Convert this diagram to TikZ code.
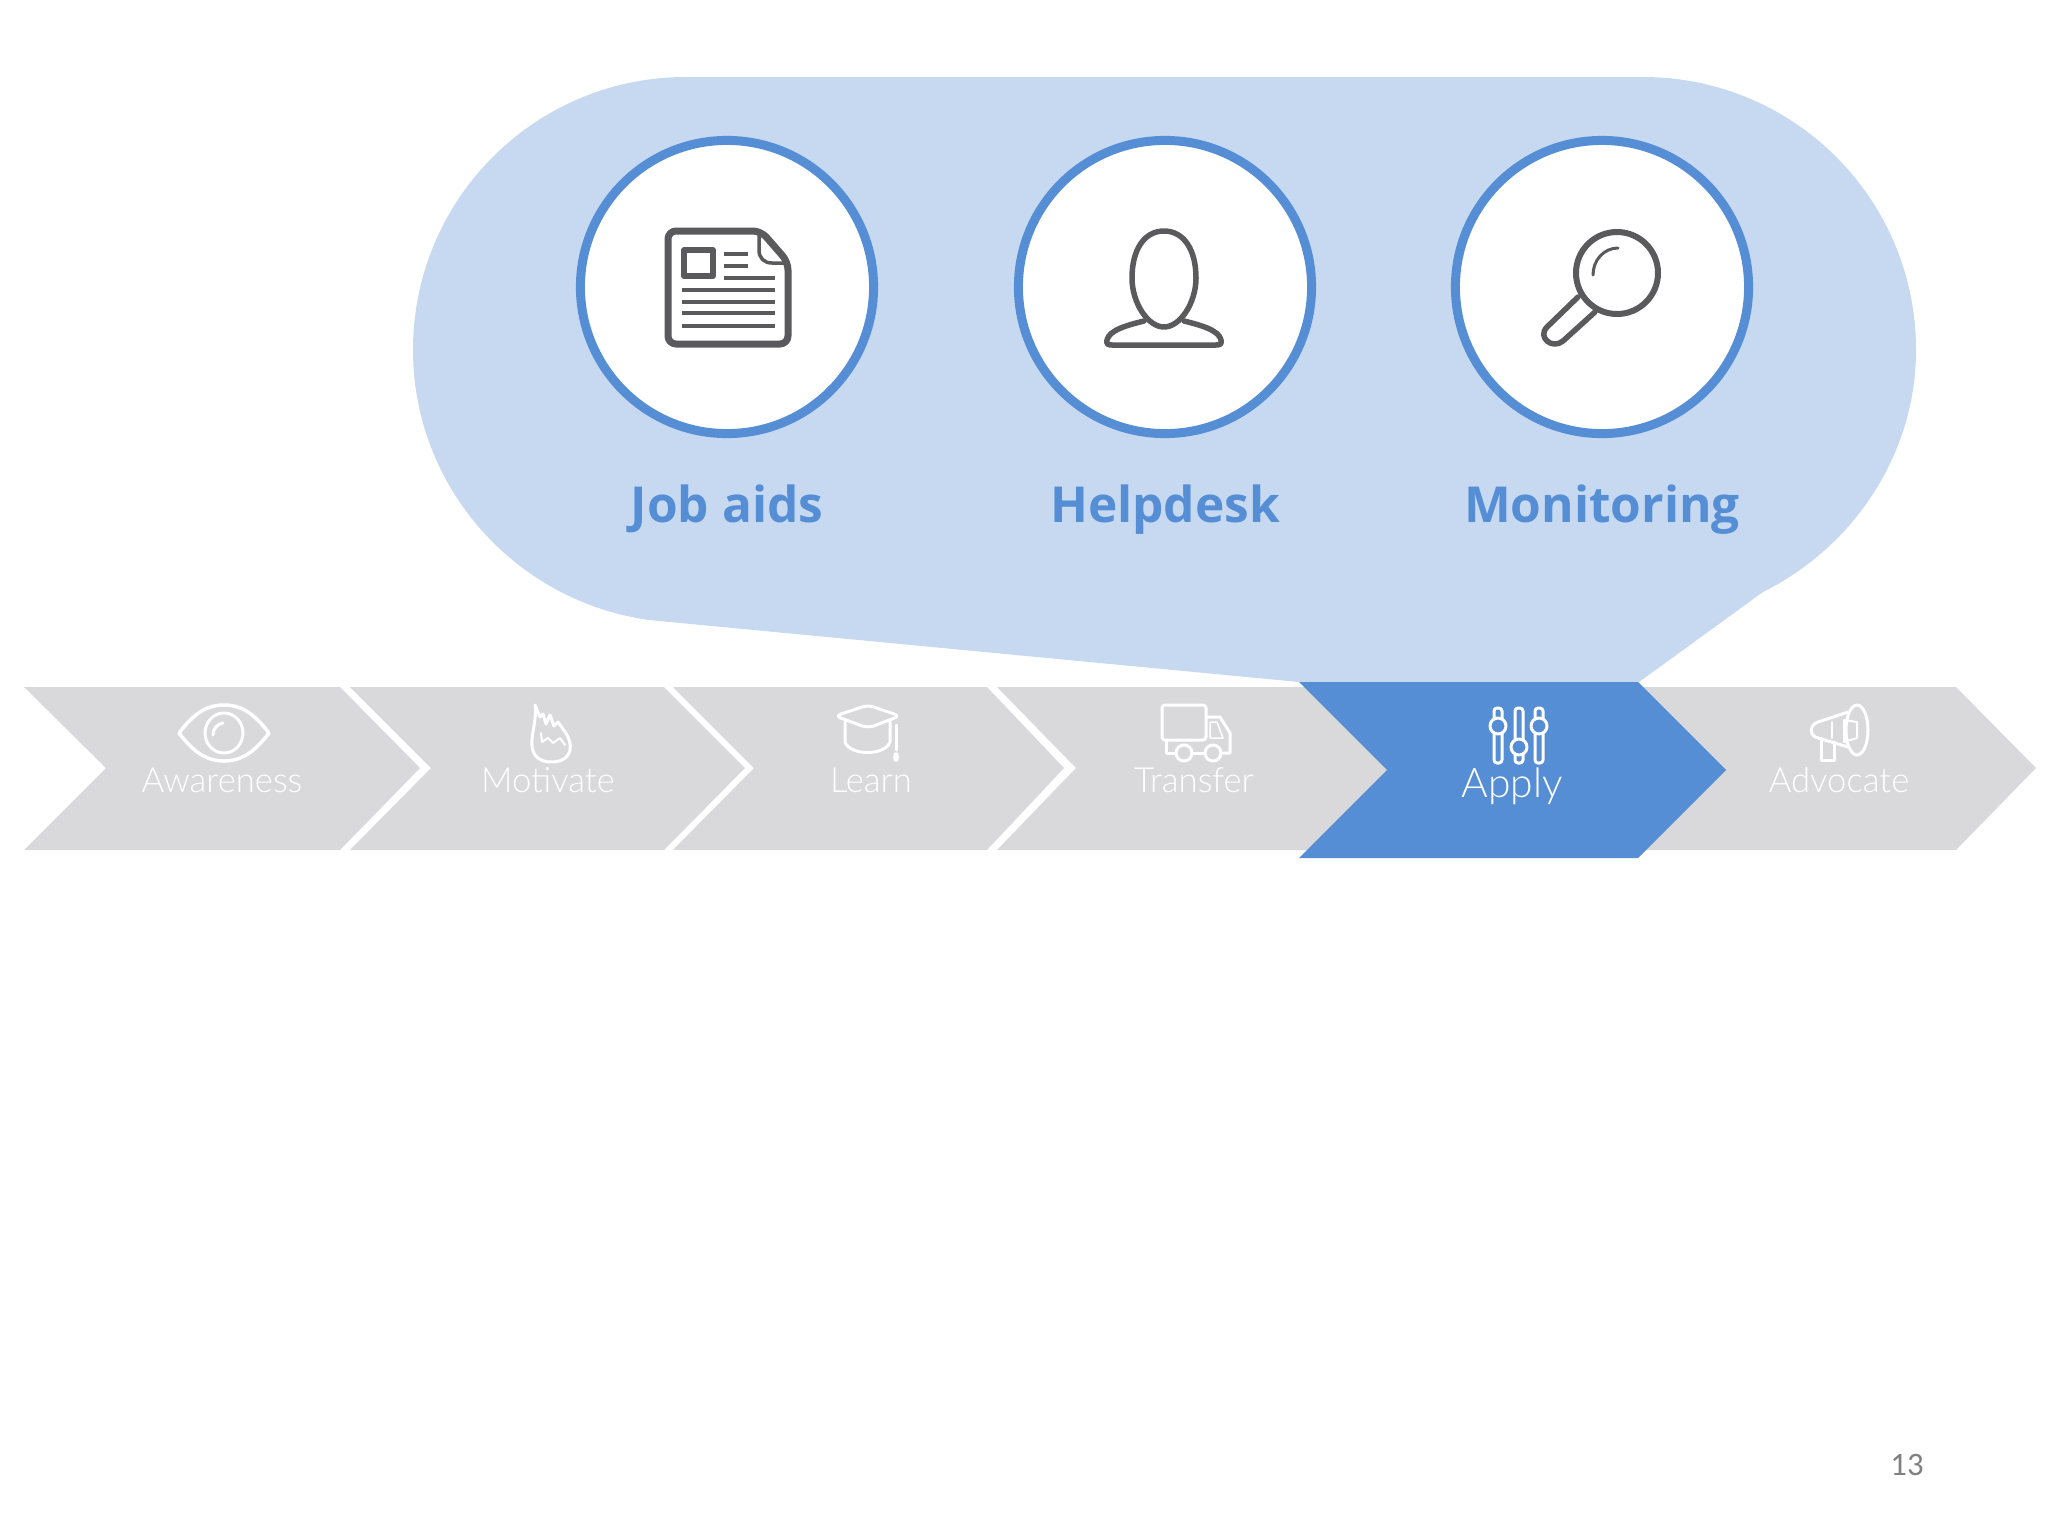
\documentclass[tikz,border=0pt]{standalone}
\usepackage{fontspec}
\setmainfont{Open Sans}
\newfontfamily\lightfont[UprightFont=* Light]{Lato}
\newfontfamily\numfont{Carlito}
\definecolor{chevgray}{HTML}{D9D8DA}
\definecolor{applyblue}{HTML}{558ED5}
\definecolor{bubbleblue}{HTML}{C6D9F1}
\definecolor{icongray}{HTML}{5A5A5C}
\tikzset{
  chev/.style={fill=chevgray},
  ring/.style={circle,draw=applyblue,fill=white,line width=0.09cm,minimum size=2.93cm},
  ringtxt/.style={anchor=base,text=applyblue,font=\fontsize{14.1}{16}\selectfont\bfseries},
  chevtxt/.style={anchor=base,text=white,font=\lightfont\fontsize{9.85}{11}\selectfont},
  icon/.style={draw=icongray,line width=0.055cm,line join=round,line cap=round},
  wicon/.style={draw=white,line width=0.03cm,line join=round,line cap=round}
}
\begin{document}
\begin{tikzpicture}[x=0.01cm,y=-0.01cm]
   \useasboundingbox (0,0) rectangle (2048,1536);
   % callout behind the circles
   \fill[bubbleblue] (413,350) .. controls (413,199) and (535,77) .. (686,77) -- (1643,77)
      .. controls (1794,77) and (1916,199) .. (1916,350)
      .. controls (1916,453) and (1855,546) .. (1763,592)
      -- (1639,682) -- (1299,682) -- (649,620)
      .. controls (514,601) and (413,486) .. (413,350);
   % chevrons
   \fill[chev] (24,687) -- (340,687) -- (420,768) -- (340,850) -- (24,850) -- (106,768) -- cycle;
   \fill[chev] (350,687) -- (664,687) -- (745,768) -- (664,850) -- (350,850) -- (431,768) -- cycle;
   \fill[chev] (673,687) -- (987,687) -- (1064,768) -- (987,850) -- (673,850) -- (754,768) -- cycle;
   \fill[chev] (997,687) -- (1310,687) -- (1391,768) -- (1310,850) -- (997,850) -- (1076,768) -- cycle;
   \fill[chev] (1620,687) -- (1956,687) -- (2036,768) -- (1956,850) -- (1620,850) -- (1700,768) -- cycle;
   \fill[applyblue] (1299,682) -- (1638,682) -- (1726,770) -- (1638,858) -- (1299,858) -- (1387,770) -- cycle;
   % circles
   \node[ring] (jobaids) at (727,287) {};
   \node[ring] (helpdesk) at (1165,287) {};
   \node[ring] (monitoring) at (1602,287) {};
   \node[ringtxt] (jobaidstxt) at (727,522) {Job aids};
   \node[ringtxt] (helpdesktxt) at (1165,522) {Helpdesk};
   \node[ringtxt] (monitoringtxt) at (1602,522) {Monitoring};
   % newspaper
   \draw[icon,line width=0.07cm,rounded corners=0.08cm] (668,231) -- (761,231) -- (788,262) -- (788,344) -- (668,344) -- cycle;
   \draw[icon,line width=0.035cm] (759,232) -- (759,250) .. controls (759,258) and (764,263) .. (772,263) -- (787,263);
   \draw[icon,line width=0.055cm,line cap=butt] (684,250) rectangle (713,276);
   \draw[icon,line width=0.04cm,line cap=butt] (724,254) -- (748,254);
   \draw[icon,line width=0.04cm,line cap=butt] (724,266) -- (748,266);
   \draw[icon,line width=0.04cm,line cap=butt] (724,278) -- (775,278);
   \draw[icon,line width=0.04cm,line cap=butt] (682,290) -- (775,290);
   \draw[icon,line width=0.04cm,line cap=butt] (682,302) -- (775,302);
   \draw[icon,line width=0.04cm,line cap=butt] (682,313) -- (775,313);
   \draw[icon,line width=0.04cm,line cap=butt] (682,326) -- (775,326);
   % person
   \draw[icon] (1164,231) .. controls (1144,231) and (1132,250) .. (1132,278)
      .. controls (1132,303) and (1148,327) .. (1164,327)
      .. controls (1180,327) and (1196,303) .. (1196,278)
      .. controls (1196,250) and (1184,231) .. (1164,231);
   \draw[icon] (1144,321) .. controls (1128,325) and (1109,330) .. (1107,340)
      .. controls (1106,344) and (1108,345) .. (1112,345) -- (1216,345)
      .. controls (1220,345) and (1222,344) .. (1221,340)
      .. controls (1219,330) and (1200,325) .. (1184,321);
   % magnifier
   \draw[icon,line width=0.06cm] (1617,273) circle[radius=41];
   \draw[icon,line width=0.03cm] (1618,248) .. controls (1604,248) and (1593,260) .. (1593,275);
   \draw[icon] (1578,297) -- (1547,327) .. controls (1537,337) and (1552,350) .. (1563,341) -- (1595,312);
   % eye
   \draw[wicon,line width=0.035cm] (179,733) .. controls (195,712) and (208,705) .. (224,705)
      .. controls (240,705) and (253,712) .. (269,733)
      .. controls (253,754) and (240,761) .. (224,761)
      .. controls (208,761) and (195,754) .. (179,733);
   \draw[wicon] (224,733) ellipse[x radius=19,y radius=20];
   \draw[wicon] (213,735) .. controls (213,729) and (217,724) .. (223,723);
   % flame
   \draw[wicon] (535,705) -- (540,717) -- (543,714) -- (546,724) -- (550,715) -- (554,726) -- (558,722) -- (563,729)
      .. controls (570,738) and (571,745) .. (570,750)
      .. controls (568,759) and (560,762) .. (551,762)
      .. controls (541,762) and (533,757) .. (532,746)
      .. controls (531,732) and (537,722) .. (535,705);
   \draw[wicon,line width=0.02cm] (541,733) -- (542,742) -- (548,738) -- (553,743) -- (560,738) -- (565,745);
   % cap
   \draw[wicon,rounded corners=0.06cm] (868,705) -- (900,716) -- (868,728) -- (835,716) -- cycle;
   \draw[wicon] (845,722) -- (845,742) .. controls (850,756) and (885,756) .. (890,742) -- (890,722);
   \draw[wicon] (896,725) -- (896,750);
   \fill[white] (896,757) ellipse[x radius=3,y radius=5];
   % truck
   \draw[wicon,rounded corners=0.03cm] (1162,705) rectangle (1206,740);
   \draw[wicon] (1206,717) -- (1220,717) -- (1230,733) -- (1230,753) -- (1221,753);
   \draw[wicon] (1166,740) -- (1166,753) -- (1176,753);
   \draw[wicon] (1192,753) -- (1205,753);
   \draw[wicon] (1184,753) circle[radius=8];
   \draw[wicon] (1213,753) circle[radius=8];
   \draw[wicon,line width=0.015cm] (1210,722) -- (1217,722) -- (1223,738) -- (1210,738) -- cycle;
   % sliders
   \draw[wicon,rounded corners=0.03cm] (1494,708) rectangle (1502,763);
   \draw[wicon,rounded corners=0.03cm] (1515,708) rectangle (1523,763);
   \draw[wicon,rounded corners=0.03cm] (1535,708) rectangle (1543,763);
   \filldraw[wicon,fill=applyblue] (1498,726) circle[radius=8];
   \filldraw[wicon,fill=applyblue] (1519,747) circle[radius=8];
   \filldraw[wicon,fill=applyblue] (1539,726) circle[radius=8];
   % megaphone
   \draw[wicon] (1857,730) ellipse[x radius=11,y radius=25];
   \draw[wicon] (1848,712) -- (1818,722) .. controls (1809,725) and (1809,736) .. (1818,738) -- (1848,747);
   \draw[wicon] (1821,738) -- (1821,760) -- (1834,760) -- (1834,742);
   \draw[wicon,line width=0.02cm] (1832,722) -- (1832,738);
   \draw[wicon,line width=0.02cm] (1844,720) -- (1844,742) -- (1857,738) -- (1857,722) -- cycle;
   % chevron labels
   \node[chevtxt] (awareness) at (222,792) {Awareness};
   \node[chevtxt] (motivate) at (548,792) {Motivate};
   \node[chevtxt] (learn) at (871,792) {Learn};
   \node[chevtxt] (transfer) at (1194,792) {Transfer};
   \node[chevtxt,font=\lightfont\fontsize{11.6}{13}\selectfont] (apply) at (1512,797) {Apply};
   \node[chevtxt] (advocate) at (1839,792) {Advocate};
   \node[anchor=base,text=black!50,font=\numfont\fontsize{9.3}{11}\selectfont] (pagenum) at (1907,1475) {13};
\end{tikzpicture}
\end{document}
